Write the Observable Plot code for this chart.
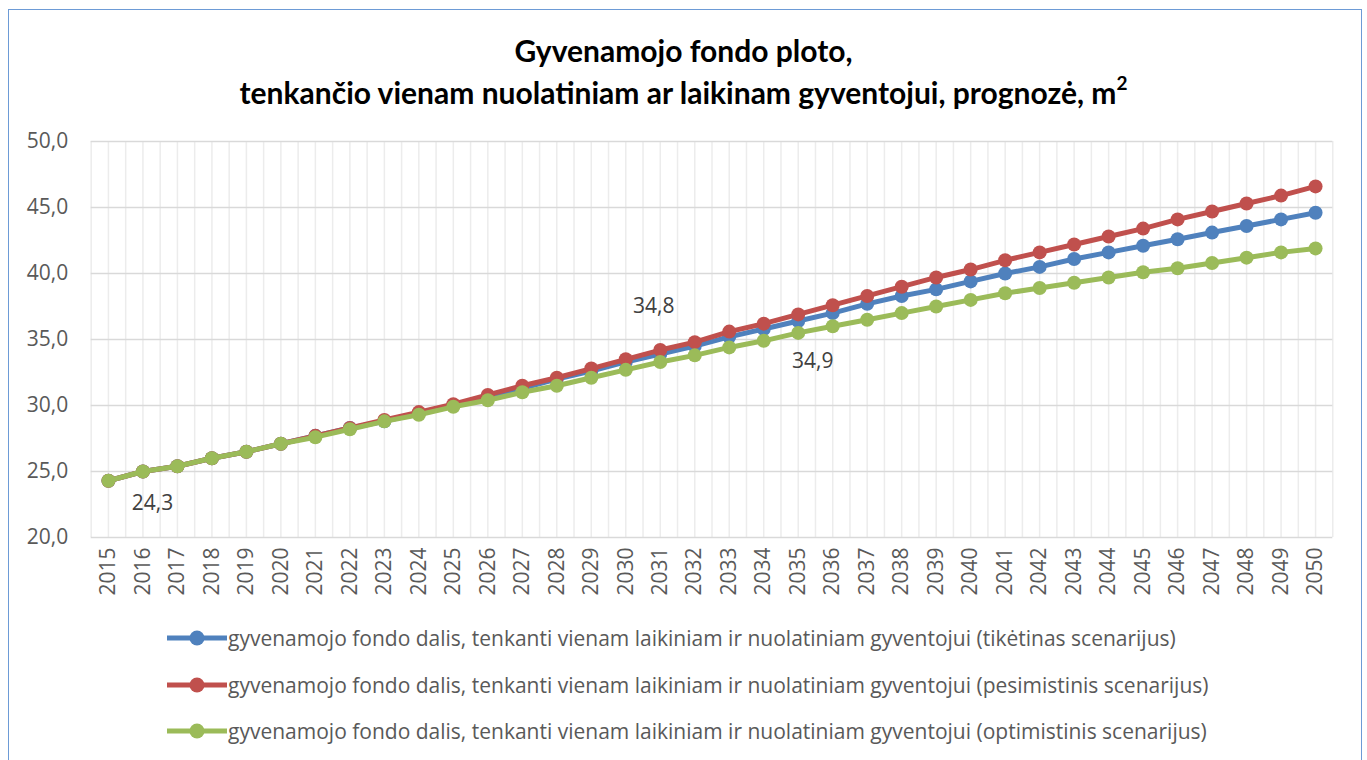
<!DOCTYPE html>
<html><head><meta charset="utf-8">
<script src="https://cdn.jsdelivr.net/npm/d3@7"></script>
<script src="https://cdn.jsdelivr.net/npm/@observablehq/plot@0.6"></script>
<style>
body{margin:0;background:#fff;width:1367px;height:760px;overflow:hidden;position:relative;font-family:"Open Sans",sans-serif;}
#frame{position:absolute;left:8px;top:9px;width:1354px;height:800px;border:1.5px solid #6d9bd6;box-sizing:border-box;}
#title{position:absolute;left:0;top:29px;width:1367px;text-align:center;font-family:Lato,sans-serif;font-weight:bold;font-size:30px;line-height:42px;color:#000;}
#title sup{font-size:19px;line-height:0;position:relative;top:-3px;}
#chart{position:absolute;left:0;top:120px;}
#legend{position:absolute;left:167px;top:615px;}
.row{display:flex;align-items:center;height:46.5px;font-size:21px;color:#595959;white-space:nowrap;}
.row svg{margin-right:1px;}
</style></head>
<body>
<div id="frame"></div>
<div id="title">Gyvenamojo fondo ploto,<br>tenkančio vienam nuolatiniam ar laikinam gyventojui, prognozė, m<sup>2</sup></div>
<div id="chart"></div>
<div id="legend"></div>
<script>
const years = d3.range(2015, 2051);
const seriesNames = [
  "gyvenamojo fondo dalis, tenkanti vienam laikiniam ir nuolatiniam gyventojui (tikėtinas scenarijus)",
  "gyvenamojo fondo dalis, tenkanti vienam laikiniam ir nuolatiniam gyventojui (pesimistinis scenarijus)",
  "gyvenamojo fondo dalis, tenkanti vienam laikiniam ir nuolatiniam gyventojui (optimistinis scenarijus)"
];
const seriesColors = ["#4f81bd", "#c0504d", "#9bbb59"];
const likely = [24.3,25.0,25.4,26.0,26.5,27.1,27.7,28.3,28.8,29.4,30.0,30.7,31.3,32.0,32.6,33.3,33.9,34.5,35.2,35.8,36.4,37.0,37.7,38.3,38.8,39.4,40.0,40.5,41.1,41.6,42.1,42.6,43.1,43.6,44.1,44.6];
const pessimistic = [24.3,25.0,25.4,26.0,26.5,27.1,27.7,28.3,28.9,29.5,30.1,30.8,31.5,32.1,32.8,33.5,34.2,34.8,35.6,36.2,36.9,37.6,38.3,39.0,39.7,40.3,41.0,41.6,42.2,42.8,43.4,44.1,44.7,45.3,45.9,46.6];
const optimistic = [24.3,25.0,25.4,26.0,26.5,27.1,27.6,28.2,28.8,29.3,29.9,30.4,31.0,31.5,32.1,32.7,33.3,33.8,34.4,34.9,35.5,36.0,36.5,37.0,37.5,38.0,38.5,38.9,39.3,39.7,40.1,40.4,40.8,41.2,41.6,41.9];
const yTicks = [20, 25, 30, 35, 40, 45, 50];
const fmt = v => v.toFixed(1).replace(".", ",");

const allSeries = [likely, pessimistic, optimistic];
const tables = allSeries.map(vals => years.map((yr, i) => ({year: yr, value: vals[i]})));
const dataLabels = [
  {year: 2015, value: optimistic[0], dx: 44, dy: 23},
  {year: 2032, value: pessimistic[17], dx: -41, dy: -36},
  {year: 2034, value: optimistic[19], dx: 49, dy: 20}
];
const vGrid = years.flatMap(y => [y - 0.5, y]).concat([2050.5]);

const marks = [
  Plot.ruleX(vGrid, {x: d => d, stroke: "#ececec", strokeWidth: 1.5}),
  Plot.ruleY(yTicks, {y: d => d, stroke: "#d9d9d9", strokeWidth: 1.5}),
  Plot.axisY({ticks: yTicks, tickFormat: fmt, tickSize: 0, tickPadding: 23, fill: "#595959", fontSize: 21, label: null}),
  Plot.axisX({ticks: years, tickFormat: d => String(d), tickSize: 0, tickPadding: 10, tickRotate: -90, fill: "#595959", fontSize: 21, label: null})
];
tables.forEach((t, i) => {
  marks.push(Plot.line(t, {x: "year", y: "value", stroke: seriesColors[i], strokeWidth: 5}));
  marks.push(Plot.dot(t, {x: "year", y: "value", fill: seriesColors[i], r: 7}));
});
dataLabels.forEach(l => {
  marks.push(Plot.text([l], {x: "year", y: "value", text: d => fmt(d.value), dx: l.dx, dy: l.dy, fontSize: 21, fill: "#404040"}));
});

const chart = Plot.plot({
  width: 1367, height: 500,
  marginLeft: 90.7, marginRight: 34.7, marginTop: 21, marginBottom: 83,
  style: {fontFamily: "Open Sans", fontSize: "21px", background: "transparent"},
  x: {type: "linear", domain: [2014.5, 2050.5]},
  y: {domain: [20, 50]},
  marks
});
document.getElementById("chart").appendChild(chart);

const legend = document.getElementById("legend");
seriesNames.forEach((name, i) => {
  const row = document.createElement("div");
  row.className = "row";
  row.innerHTML = `<svg width="60" height="20"><line x1="0" x2="60" y1="10" y2="10" stroke="${seriesColors[i]}" stroke-width="5"/><circle cx="30" cy="10" r="7.5" fill="${seriesColors[i]}"/></svg><span>${name}</span>`;
  legend.appendChild(row);
});
</script>
</body></html>
